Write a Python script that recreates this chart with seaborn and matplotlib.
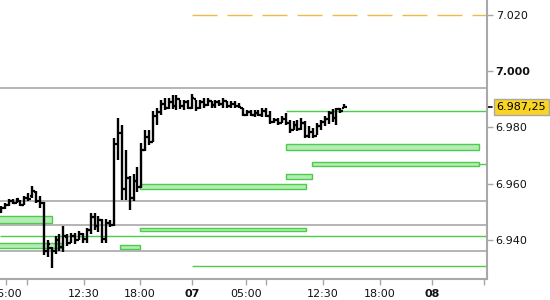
import matplotlib
matplotlib.use("Agg")
import matplotlib.pyplot as plt
import seaborn as sns
import numpy as np

# ---------------- data ----------------
high = [6952.0, 6953.0, 6954.5, 6954.5, 6954.8, 6954.2, 6955.5, 6956.7, 6959.2, 6957.4,
        6955.6, 6953.5, 6940.0, 6937.6, 6941.3, 6942.2, 6945.0, 6942.0, 6942.5, 6942.5,
        6943.2, 6942.5, 6944.3, 6949.6, 6949.6, 6948.5, 6947.4, 6947.4, 6947.0, 6976.2,
        6983.5, 6981.0, 6972.0, 6962.8, 6963.5, 6966.0, 6974.5, 6979.0, 6979.0, 6985.8,
        6987.0, 6989.8, 6990.5, 6990.5, 6991.6, 6991.6, 6989.8, 6989.8, 6989.8, 6992.0,
        6989.8, 6989.8, 6990.5, 6990.5, 6989.4, 6989.8, 6989.8, 6990.5, 6989.4, 6989.4,
        6989.4, 6988.7, 6987.0, 6986.2, 6986.2, 6986.2, 6986.2, 6987.0, 6987.0, 6985.8,
        6983.4, 6983.4, 6984.0, 6985.0, 6982.7, 6982.3, 6982.7, 6983.4, 6982.3, 6980.5,
        6979.8, 6981.6, 6982.7, 6984.0, 6985.8, 6986.6, 6987.0, 6987.0, 6988.3]
low = [6949.6, 6951.0, 6952.0, 6952.8, 6953.0, 6952.0, 6952.5, 6953.8, 6955.0, 6953.2,
       6951.4, 6934.7, 6934.0, 6930.0, 6935.0, 6936.0, 6935.7, 6938.0, 6939.0, 6938.6,
       6940.0, 6939.0, 6939.0, 6942.0, 6943.6, 6942.8, 6939.0, 6939.0, 6944.6, 6945.0,
       6968.5, 6954.2, 6954.2, 6950.7, 6954.0, 6957.0, 6958.5, 6971.6, 6973.8, 6974.8,
       6981.0, 6984.4, 6986.2, 6986.6, 6986.6, 6986.2, 6986.6, 6986.2, 6986.6, 6986.6,
       6985.8, 6986.6, 6987.0, 6987.6, 6987.0, 6987.0, 6987.6, 6987.0, 6987.0, 6987.0,
       6987.0, 6987.0, 6984.0, 6984.0, 6984.0, 6983.6, 6984.0, 6983.6, 6983.6, 6981.2,
       6981.6, 6980.9, 6981.6, 6980.9, 6978.0, 6979.1, 6978.7, 6979.1, 6976.2, 6976.2,
       6976.2, 6977.3, 6979.1, 6980.5, 6981.2, 6982.0, 6980.9, 6985.1, 6987.0]
open_ = [6950.0, 6951.5, 6952.5, 6954.0, 6953.2, 6954.0, 6952.5, 6955.0, 6955.5, 6957.0,
         6954.0, 6953.0, 6936.0, 6937.0, 6936.0, 6940.0, 6937.5, 6941.0, 6939.0, 6941.5,
         6940.0, 6942.0, 6940.5, 6943.5, 6948.0, 6945.0, 6947.0, 6940.5, 6946.0, 6945.5,
         6974.0, 6978.0, 6958.0, 6962.0, 6955.0, 6961.0, 6959.0, 6972.0, 6976.5, 6975.0,
         6984.0, 6985.5, 6988.5, 6987.0, 6989.0, 6987.5, 6990.0, 6987.5, 6989.0, 6987.0,
         6990.0, 6987.0, 6989.0, 6988.0, 6989.5, 6988.0, 6989.0, 6988.5, 6989.5, 6987.5,
         6988.5, 6987.5, 6987.0, 6984.5, 6985.5, 6984.5, 6985.0, 6984.5, 6986.0, 6984.0,
         6982.0, 6982.5, 6981.5, 6983.0, 6981.5, 6979.0, 6981.0, 6979.5, 6981.5, 6977.0,
         6978.5, 6977.0, 6980.5, 6982.0, 6983.0, 6985.0, 6983.5, 6986.5, 6987.0]
close = [6951.5, 6952.5, 6954.0, 6953.2, 6954.5, 6952.5, 6955.0, 6954.5, 6957.5, 6954.0,
         6953.0, 6936.0, 6938.5, 6936.0, 6940.0, 6937.5, 6941.5, 6939.0, 6941.5, 6940.0,
         6942.0, 6940.5, 6943.5, 6948.0, 6945.0, 6947.0, 6940.5, 6946.0, 6945.5, 6974.0,
         6978.0, 6958.0, 6962.0, 6955.0, 6961.0, 6959.0, 6972.0, 6976.5, 6975.0, 6984.0,
         6985.5, 6988.5, 6987.0, 6989.0, 6987.5, 6990.0, 6987.5, 6989.0, 6987.0, 6990.5,
         6987.0, 6989.0, 6988.0, 6989.5, 6988.0, 6989.0, 6988.5, 6989.5, 6987.5, 6988.5,
         6987.5, 6987.2, 6984.5, 6985.5, 6984.5, 6985.0, 6984.5, 6986.0, 6984.0, 6982.0,
         6982.5, 6981.5, 6983.0, 6981.5, 6979.0, 6981.0, 6979.5, 6981.5, 6977.0, 6978.5,
         6977.0, 6980.5, 6982.0, 6983.0, 6985.0, 6983.5, 6986.5, 6986.0, 6987.25]

# zones (bar-slot start/end, price low/high)
zone_start = [73.1, 79.7, 73.1, 35.6, -2.0, 35.6, -2.0, 30.5]
zone_end = [122.6, 122.6, 79.7, 78.2, 13.1, 78.2, 15.6, 35.6]
zone_low = [6972.0, 6966.3, 6961.7, 6958.1, 6946.0, 6943.2, 6937.2, 6936.8]
zone_high = [6974.1, 6967.7, 6963.5, 6959.9, 6948.5, 6944.3, 6938.9, 6938.2]

gray_levels = [6994.0, 6953.9, 6945.3, 6936.1]
green_levels = [6941.4, 6930.8, 6985.9, 6967.0]
green_starts = [-2.0, 49.0, 73.1, 122.6]
target_level = 7020.0
target_start = 49.0

yticks = [6940, 6960, 6980, 7000, 7020]
xtick_pos = [1.28, 21.3, 35.6, 49.0, 62.8, 82.6, 97.2, 110.5]
xtick_lab = ["06:00", "12:30", "18:00", "07", "05:00", "12:30", "18:00", "08"]
xminor_pos = [6.67, 68.0, 123.8]
last_price = 6987.25

# ---------------- plot ----------------
sns.set_theme(style="white")
plt.rcParams["font.family"] = ["DejaVu Sans"]

fig = plt.figure(figsize=(5.5, 3.0), dpi=100)
ax = fig.add_axes([0.0, 0.07, 487 / 550, 0.93])

x_min, x_max = -0.256, 124.615
ax.set_xlim(x_min, x_max)
ax.set_ylim(6926.13, 7025.33)

grey = "#a8a8a8"
green = "#4ccc4c"

for lv in gray_levels:
    ax.hlines(lv, x_min, x_max, colors=grey, linewidth=1.2, zorder=1)
for lv, st in zip(green_levels, green_starts):
    ax.hlines(lv, max(st, x_min), x_max, colors=green, linewidth=1.0, zorder=1)
ax.hlines(target_level, target_start, x_max, colors="#f2b84b", linewidth=1.0,
          linestyles=(0, (18, 7.2)), zorder=1)

widths = [e - s for s, e in zip(zone_start, zone_end)]
heights = [h - l for l, h in zip(zone_low, zone_high)]
ax.bar(zone_start, heights, width=widths, bottom=zone_low, align="edge",
       color="#b5ecb5", edgecolor=green, linewidth=1.0, zorder=2)

xs = np.arange(len(high))
ax.vlines(xs, low, high, colors="black", linewidth=1.7, zorder=3)
ax.hlines(open_, xs - 0.6, xs, colors="black", linewidth=1.6, zorder=3)
ax.hlines(close, xs, xs + 0.6, colors="black", linewidth=1.6, zorder=3)

# spines
for s in ["top", "left"]:
    ax.spines[s].set_visible(False)
for s in ["right", "bottom"]:
    ax.spines[s].set_visible(True)
    ax.spines[s].set_color(grey)
    ax.spines[s].set_linewidth(1.5)

ax.yaxis.tick_right()
ax.set_yticks(yticks)
ax.set_yticklabels([f"{v:,.0f}".replace(",", ".") for v in yticks])
ax.tick_params(axis="y", which="both", right=True, left=False, length=4.3, width=1.0,
               color=grey, pad=2, labelsize=8, labelcolor="#111111")
for t, v in zip(ax.get_yticklabels(), yticks):
    if v == 7000:
        t.set_fontweight("bold")

ax.set_xticks(xtick_pos)
ax.set_xticklabels(xtick_lab)
ax.set_xticks(xminor_pos, minor=True)
ax.tick_params(axis="x", which="both", bottom=True, length=4, width=1.0, color=grey,
               pad=3, labelsize=8, labelcolor="#111111")
for t, lab in zip(ax.get_xticklabels(), xtick_lab):
    if lab in ("07", "08"):
        t.set_fontweight("bold")

# last price marker and label
trans = ax.get_yaxis_transform()
ax.plot([1.0, 1.0 + 5 / 487], [last_price, last_price], color="black", linewidth=1.2,
        transform=trans, clip_on=False)
lab = f"{last_price:,.2f}".replace(",", "X").replace(".", ",").replace("X", ".")
ax.text(1.0 + 9.5 / 487, last_price, lab, transform=trans, va="center", ha="left",
        fontsize=8, color="black",
        bbox=dict(boxstyle="square,pad=0.27", facecolor="#f9d423", edgecolor=grey,
                  linewidth=1.0))

fig.savefig("out.png", dpi=100)
